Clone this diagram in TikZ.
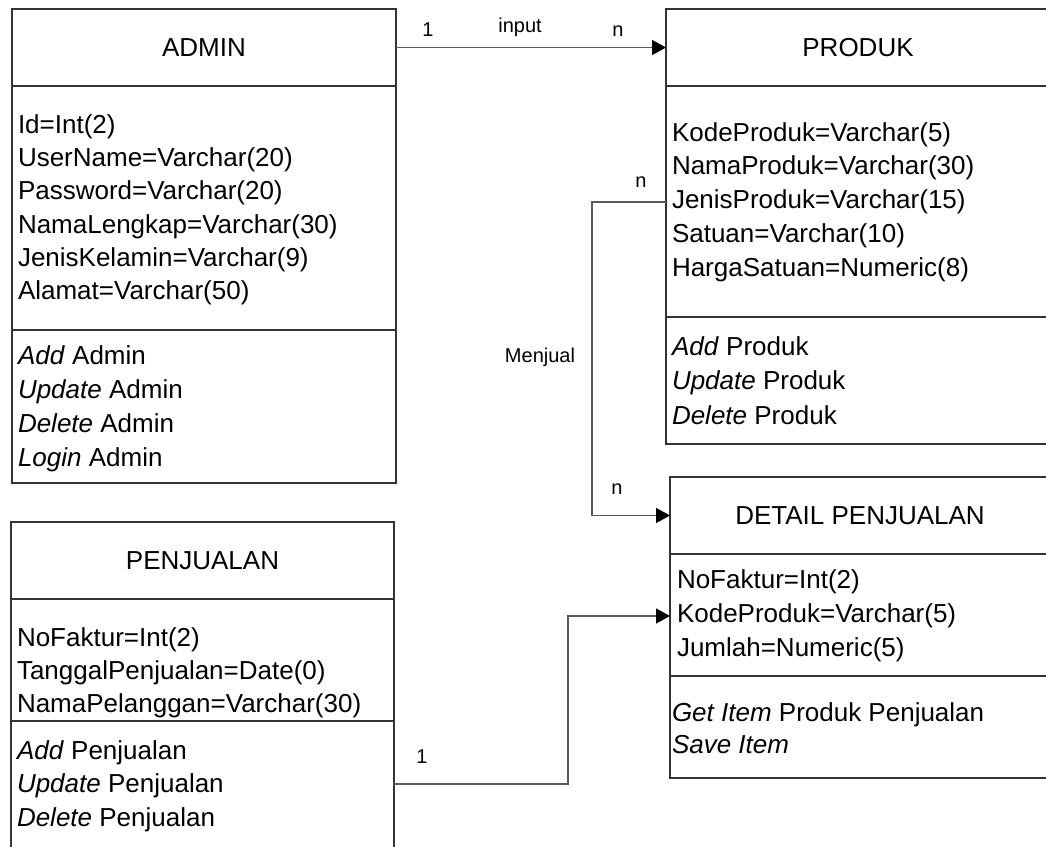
\documentclass[tikz,border=0pt]{standalone}
\usepackage{fontspec}
\setmainfont{Liberation Sans}
\usetikzlibrary{arrows.meta}

\begin{document}
\begin{tikzpicture}[x=1pt,y=-1pt,
  every node/.style={inner sep=0pt, outer sep=0pt},
  cls/.style={draw=black!80, line width=1.3pt, rectangle, anchor=north west,
              font=\fontsize{26}{31}\selectfont, align=center},
  row/.style={anchor=base west, font=\fontsize{26}{31}\selectfont},
  conn/.style={draw=black!65, line width=1.3pt},
  tip/.style={-{Triangle[length=14pt,width=15pt,color=black]}},
  lbl/.style={font=\fontsize{20}{24}\selectfont}
]
\useasboundingbox (0,0) rectangle (1046,846);
\fill[white] (0,0) rectangle (1046,846);
\clip (0,0) rectangle (1046,846);

% ---------- ADMIN ----------
\node[cls, minimum width=384pt, minimum height=77pt]  (admin-head) at (12,9)   {ADMIN};
\node[cls, minimum width=384pt, minimum height=244pt] (admin-attr) at (12,86)  {};
\node[cls, minimum width=384pt, minimum height=153pt] (admin-ops)  at (12,330) {};
\foreach \t [count=\i] in {Id=Int(2), UserName=Varchar(20), Password=Varchar(20),
    NamaLengkap=Varchar(30), JenisKelamin=Varchar(9), Alamat=Varchar(50)}
  \node[row] (admin-a\i) at (18,{133.5+33.2*(\i-1)}) {\t};
\foreach \t [count=\i] in {\textit{Add} Admin, \textit{Update} Admin,
    \textit{Delete} Admin, \textit{Login} Admin}
  \node[row] (admin-o\i) at (18,{364.5+34*(\i-1)}) {\t};

% ---------- PRODUK ----------
\node[cls, minimum width=384pt, minimum height=77pt]  (produk-head) at (666,9)   {PRODUK};
\node[cls, minimum width=384pt, minimum height=231pt] (produk-attr) at (666,86)  {};
\node[cls, minimum width=384pt, minimum height=127pt] (produk-ops)  at (666,317) {};
\foreach \t [count=\i] in {KodeProduk=Varchar(5), NamaProduk=Varchar(30),
    JenisProduk=Varchar(15), Satuan=Varchar(10), HargaSatuan=Numeric(8)}
  \node[row] (produk-a\i) at (672,{141+33.8*(\i-1)}) {\t};
\foreach \t [count=\i] in {\textit{Add} Produk, \textit{Update} Produk,
    \textit{Delete} Produk}
  \node[row] (produk-o\i) at (672,{355+34.5*(\i-1)}) {\t};

% ---------- DETAIL PENJUALAN ----------
\node[cls, minimum width=380pt, minimum height=77pt]  (detail-head) at (670,477) {DETAIL PENJUALAN};
\node[cls, minimum width=380pt, minimum height=122pt] (detail-attr) at (670,554) {};
\node[cls, minimum width=380pt, minimum height=102pt] (detail-ops)  at (670,676) {};
\foreach \t [count=\i] in {NoFaktur=Int(2), KodeProduk=Varchar(5), Jumlah=Numeric(5)}
  \node[row] (detail-a\i) at (677,{588+34*(\i-1)}) {\t};
\foreach \t [count=\i] in {\textit{Get Item} Produk Penjualan, \textit{Save Item}}
  \node[row] (detail-o\i) at (672,{721+32*(\i-1)}) {\t};

% ---------- PENJUALAN ----------
\node[cls, minimum width=383pt, minimum height=77pt]  (pj-head) at (11,522) {PENJUALAN};
\node[cls, minimum width=383pt, minimum height=122pt] (pj-attr) at (11,599) {};
\node[cls, minimum width=383pt, minimum height=150pt] (pj-ops)  at (11,721) {};
\foreach \t [count=\i] in {NoFaktur=Int(2), TanggalPenjualan=Date(0), NamaPelanggan=Varchar(30)}
  \node[row] (pj-a\i) at (17,{646+33.3*(\i-1)}) {\t};
\foreach \t [count=\i] in {\textit{Add} Penjualan, \textit{Update} Penjualan,
    \textit{Delete} Penjualan}
  \node[row] (pj-o\i) at (17,{759.5+33.3*(\i-1)}) {\t};

% ---------- relations ----------
\draw[conn, tip] (admin-head.east) -- (produk-head.west);
\draw[conn, tip] (produk-attr.west |- 0,202) -- ++(-74,0) |- (detail-head.west);
\draw[conn, tip] (pj-ops.east |- 0,784) -- ++(174,0) |- (detail-attr.west |- 0,616);

% ---------- multiplicities and names ----------
\node[lbl] (l-one-a)   at (428,30)  {1};
\node[lbl] (l-input)   at (520,27)  {input};
\node[lbl] (l-n-a)     at (618,31)  {n};
\node[lbl] (l-n-b)     at (641,182) {n};
\node[lbl] (l-menjual) at (540,357) {Menjual};
\node[lbl] (l-n-c)     at (617,489) {n};
\node[lbl] (l-one-b)   at (422,757) {1};
\end{tikzpicture}
\end{document}
